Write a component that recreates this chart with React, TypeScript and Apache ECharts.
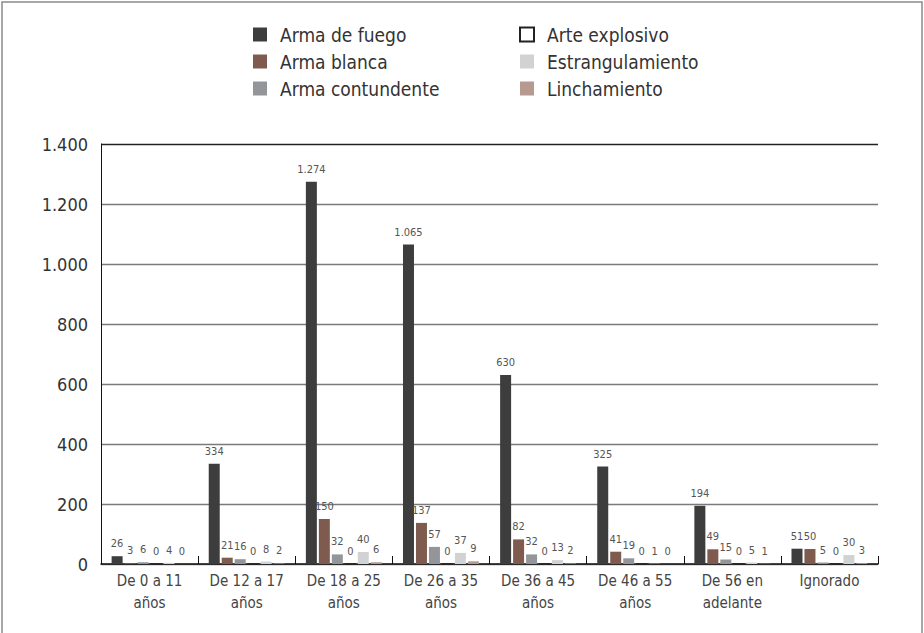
import React, { useEffect, useRef } from "react";
import * as echarts from "echarts";

const categories = [
  "De 0 a 11\naños",
  "De 12 a 17\naños",
  "De 18 a 25\naños",
  "De 26 a 35\naños",
  "De 36 a 45\naños",
  "De 46 a 55\naños",
  "De 56 en\nadelante",
  "Ignorado",
];

const seriesNames = [
  "Arma de fuego",
  "Arma blanca",
  "Arma contundente",
  "Arte explosivo",
  "Estrangulamiento",
  "Linchamiento",
];

const armaFuego = [26, 334, 1274, 1065, 630, 325, 194, 51];
const armaBlanca = [3, 21, 150, 137, 82, 41, 49, 50];
const armaContundente = [6, 16, 32, 57, 32, 19, 15, 5];
const arteExplosivo = [0, 0, 0, 0, 0, 0, 0, 0];
const estrangulamiento = [4, 8, 40, 37, 13, 1, 5, 30];
const linchamiento = [0, 2, 6, 9, 2, 0, 1, 3];

const yTicks = [0, 200, 400, 600, 800, 1000, 1200, 1400];

const colors = ["#3d3d3d", "#7f5a4f", "#939598", "#ffffff", "#d1d2d4", "#b69a8f"];
const FONT = "'DejaVu Sans Condensed', Roboto, sans-serif";

const fmt = (v: number) =>
  String(v).replace(/\B(?=(\d{3})+(?!\d))/g, ".");

export default function App() {
  const ref = useRef<HTMLDivElement>(null);
  useEffect(() => {
    if (!ref.current) return;
    const chart = echarts.init(ref.current, undefined, { renderer: "svg" });
    const allData = [armaFuego, armaBlanca, armaContundente, arteExplosivo, estrangulamiento, linchamiento];
    const legendText = {
      fontFamily: FONT,
      fontSize: 19,
      color: "#333",
      padding: [0, 0, 0, 8],
    };
    chart.setOption({
      animation: false,
      textStyle: { fontFamily: FONT },
      graphic: [
        {
          type: "rect",
          shape: { x: 2, y: 2, width: 920, height: 640 },
          style: { fill: "none", stroke: "#8a8a8a", lineWidth: 1.5 },
          silent: true,
        },
      ],
      legend: [
        {
          orient: "vertical",
          left: 253,
          top: 25,
          padding: 0,
          itemWidth: 14,
          itemHeight: 14,
          itemGap: 8,
          icon: "rect",
          data: seriesNames.slice(0, 3),
          textStyle: legendText,
        },
        {
          orient: "vertical",
          left: 519,
          top: 25,
          padding: 0,
          itemWidth: 14,
          itemHeight: 14,
          itemGap: 8,
          icon: "rect",
          data: seriesNames.slice(3),
          textStyle: legendText,
        },
      ],
      grid: { left: 101, right: 46, top: 144, bottom: 69, containLabel: false },
      xAxis: {
        type: "category",
        data: categories,
        axisLine: { lineStyle: { color: "#111", width: 1.5 } },
        axisTick: { show: true, inside: true, length: 8, lineStyle: { color: "#111" } },
        axisLabel: {
          fontFamily: FONT,
          fontSize: 15,
          color: "#444",
          lineHeight: 22,
          margin: 6,
          interval: 0,
        },
      },
      yAxis: {
        type: "value",
        min: 0,
        max: 1400,
        interval: 200,
        axisLine: { show: true, lineStyle: { color: "#111" } },
        axisTick: { show: false },
        splitLine: {
          lineStyle: {
            color: yTicks.map((t) => (t === 1400 ? "#222" : "#7a7a7a")),
            width: 1.3,
          },
        },
        axisLabel: {
          fontFamily: FONT,
          fontSize: 18,
          color: "#333",
          margin: 13,
          formatter: (v: number) => fmt(v),
        },
      },
      series: seriesNames.map((name, i) => ({
        name,
        type: "bar",
        data: allData[i],
        barWidth: 11,
        barGap: "18%",
        itemStyle: {
          color: colors[i],
          borderColor: i === 3 ? "#222" : undefined,
          borderWidth: i === 3 ? 1 : 0,
        },
        label: {
          show: true,
          position: "top",
          distance: 7,
          fontFamily: FONT,
          fontSize: 11,
          color: "#555",
          formatter: (p: any) => fmt(p.value),
        },
      })),
    });
    return () => chart.dispose();
  }, []);
  return (
    <div
      ref={ref}
      style={{ position: "fixed", left: 0, top: 0, width: 924, height: 633, background: "#fff" }}
    />
  );
}
